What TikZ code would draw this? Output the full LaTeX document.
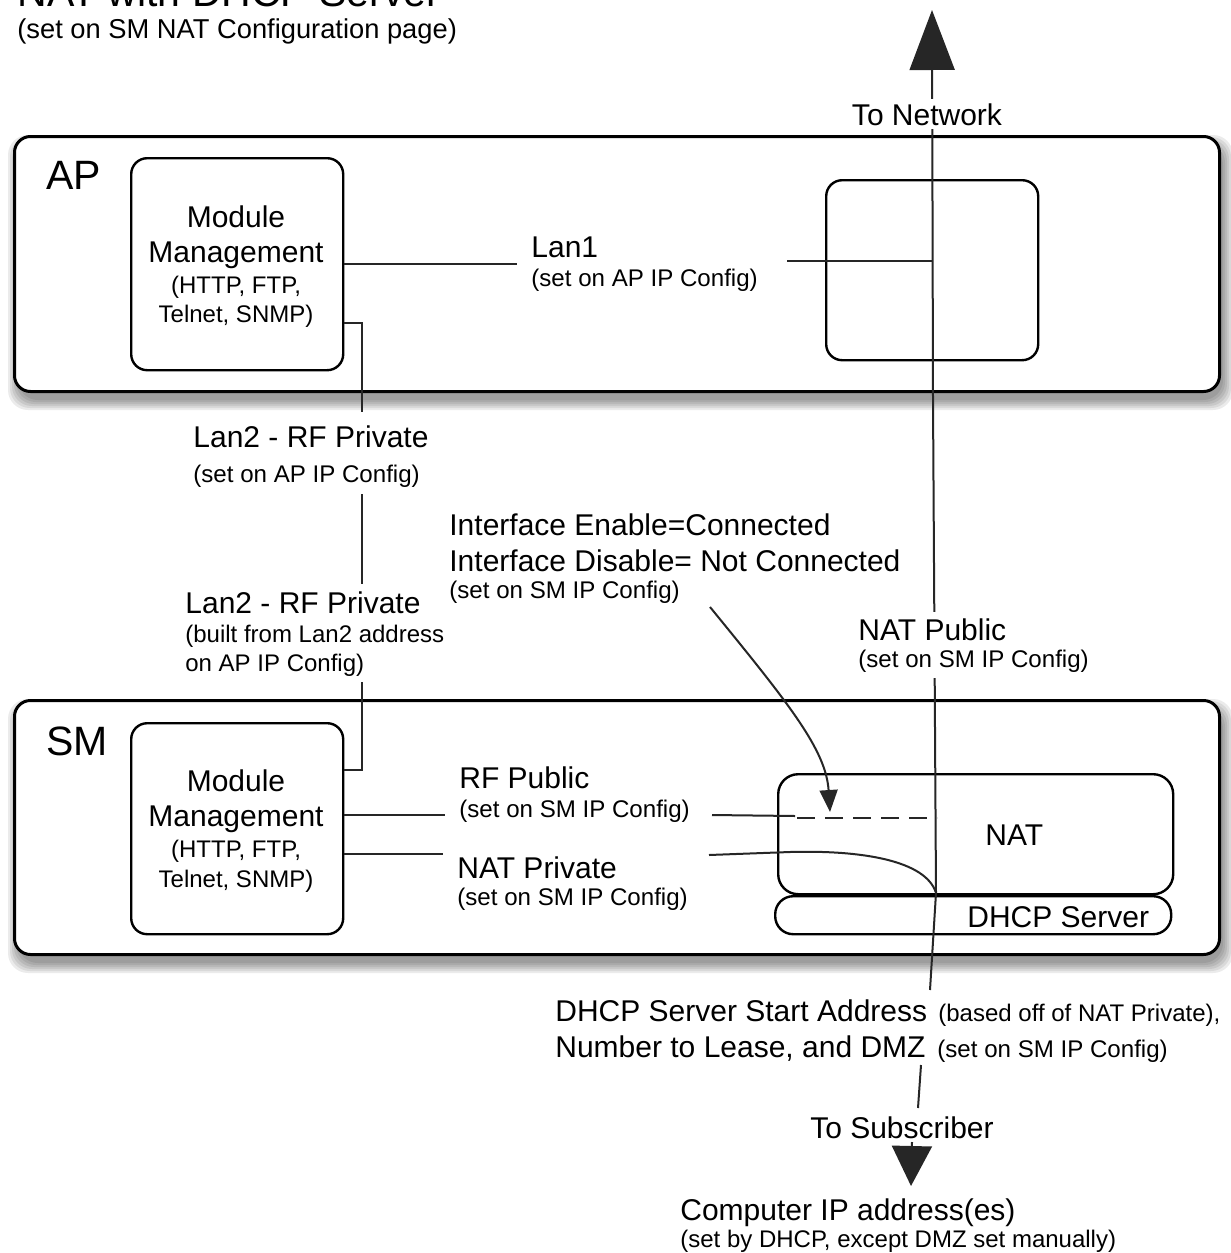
\documentclass[tikz,border=0pt]{standalone}
\usepackage{fontspec}
\setmainfont{Liberation Sans}
\usetikzlibrary{arrows.meta}
\newcommand{\mainsz}{\fontsize{15}{18}\selectfont}
\newcommand{\bigsz}{\fontsize{20.5}{24}\selectfont}
\newcommand{\titlesubsz}{\fontsize{13.65}{16}\selectfont}
\newcommand{\subsz}{\fontsize{12.05}{14}\selectfont}
\newcommand{\tinysz}{\fontsize{12}{14}\selectfont}
\begin{document}
\begin{tikzpicture}[x=0.5pt,y=-0.5pt,
  outerbox/.style={draw=black, line width=1.5pt, rounded corners=8pt, fill=white, inner sep=0pt, anchor=north west},
  innerbox/.style={draw=black, line width=1.2pt, rounded corners=8pt, fill=white, inner sep=0pt, anchor=north west},
  conn/.style={draw=black!85, line width=1pt},
  txt/.style={inner sep=0pt, anchor=base west, font=\mainsz},
  ctxt/.style={inner sep=0pt, anchor=base, font=\mainsz},
  labelbg/.style={fill=white},
  shadowlayer/.style={fill=black, opacity=0.08, rounded corners=10pt}
]
\useasboundingbox (0,0) rectangle (1231,1253);

% title (cut off at top, as in the original)
\node[txt, font=\bigsz] (title) at (17,6) {NAT with DHCP Server};
\node[txt, font=\titlesubsz] (subtitle) at (17,38) {(set on SM NAT Configuration page)};

% shadows
\foreach \k in {0,2,...,10} {
  \fill[shadowlayer] (18-\k,145-\k) rectangle (1223+\k,400+\k);
  \fill[shadowlayer] (18-\k,709-\k) rectangle (1223+\k,963+\k);
}

% outer boxes
\node[outerbox, minimum width=602.5pt, minimum height=127.5pt] (ap) at (13,135) {};
\node[outerbox, minimum width=602.5pt, minimum height=127pt] (sm) at (13,699) {};
\node[txt, font=\bigsz] (aplbl) at (46,189) {AP};
\node[txt, font=\bigsz] (smlbl) at (46,755) {SM};

% AP inner boxes
\node[innerbox, minimum width=106pt, minimum height=106pt] (apmod) at (130,157) {};
\node[innerbox, minimum width=106pt, minimum height=90pt] (aprt) at (825,179) {};
\node[ctxt] at (236,227) {Module};
\node[ctxt] at (236,262) {Management};
\node[ctxt, font=\tinysz] at (236,293) {(HTTP, FTP,};
\node[ctxt, font=\tinysz] at (236,322) {Telnet, SNMP)};

% SM inner boxes
\node[innerbox, minimum width=106pt, minimum height=105.5pt] (smmod) at (130,722) {};
\node[ctxt] at (236,791) {Module};
\node[ctxt] at (236,826) {Management};
\node[ctxt, font=\tinysz] at (236,857) {(HTTP, FTP,};
\node[ctxt, font=\tinysz] at (236,887) {Telnet, SNMP)};
\node[innerbox, minimum width=197.5pt, minimum height=60pt, rounded corners=10pt] (nat) at (777,773) {};
\node[innerbox, minimum width=198pt, minimum height=19pt, rounded corners=9pt] (dhcp) at (774,895) {};
\node[txt] (natlbl) at (985,845) {NAT};
\node[txt] (dhcplbl) at (967,927) {DHCP Server};

% network line with arrow
\coordinate (netbot) at (930,990);
\coordinate (nattip) at (936,893);
\coordinate (nettop) at (932,10);
\draw[conn, -{Triangle[length=30pt,width=22.5pt]}] (netbot) -- (nattip) -- (933,400) -- (nettop);

% Lan1
\draw[conn] (apmod.east |- 0,264) -- (517,264);
\draw[conn] (787,261) -- (932,261);
\node[txt] (lan1) at (531,257) {Lan1};
\node[txt, font=\subsz] (lan1s) at (531,286) {(set on AP IP Config)};

% Lan2
\draw[conn] (apmod.east |- 0,323) -- (362,323) -- (362,770) -- (smmod.east |- 0,770);
\fill[labelbg] (188,412) rectangle (434,494);
\fill[labelbg] (180,584) rectangle (450,682);
\node[txt] (lan2a) at (193,447) {Lan2 - RF Private};
\node[txt, font=\subsz] (lan2as) at (193,482) {(set on AP IP Config)};
\node[txt] (lan2b) at (185,613) {Lan2 - RF Private};
\node[txt, font=\tinysz] (lan2bs) at (185,642) {(built from Lan2 address};
\node[txt, font=\tinysz] (lan2bt) at (185,671) {on AP IP Config)};

% Interface label and arrow
\node[txt] (ifen) at (449,535) {Interface Enable=Connected};
\node[txt] (ifdis) at (449,571) {Interface Disable= Not Connected};
\node[txt, font=\subsz] (ifs) at (449,598) {(set on SM IP Config)};
\draw[conn, -{Triangle[length=11pt,width=9pt]}] (710,607) .. controls (790,705) and (826,750) .. (830,812);

% NAT Public
\fill[labelbg] (854,612) rectangle (1092,678);
\node[txt] (natpub) at (858,640) {NAT Public};
\node[txt, font=\subsz] (natpubs) at (858,667) {(set on SM IP Config)};

% RF Public
\draw[conn] (smmod.east |- 0,815) -- (445,815);
\draw[conn] (712,815) -- (795,816);
\draw[conn, dash pattern=on 9pt off 5pt] (797,818) -- (937,818);
\node[txt] (rfpub) at (459,788) {RF Public};
\node[txt, font=\subsz] (rfpubs) at (459,817) {(set on SM IP Config)};

% NAT Private
\draw[conn] (smmod.east |- 0,854) -- (443,854);
\draw[conn] (709,855) -- (790,852) .. controls (860,850) and (926,860) .. (nattip);
\node[txt] (natpriv) at (457,878) {NAT Private};
\node[txt, font=\subsz] (natprivs) at (457,905) {(set on SM IP Config)};

% To Network label
\node[fill=white, inner sep=2pt, anchor=base, font=\mainsz] (tonet) at (927,125) {To Network};

% DHCP text
\node[txt] (dhcpa) at (555,1021) {DHCP Server Start Address};
\node[txt, font=\tinysz] (dhcpas) at (938,1021) {(based off of NAT Private),};
\node[txt] (dhcpb) at (555,1057) {Number to Lease, and DMZ};
\node[txt, font=\subsz] (dhcpbs) at (937,1057) {(set on SM IP Config)};

% To Subscriber
\draw[conn] (921,1065) -- (918,1108);
\node[ctxt] (tosub) at (902,1138) {To Subscriber};
\draw[conn, -{Triangle[length=20pt,width=20pt]}] (912,1142) -- (911,1186);

% Computer IP
\node[txt] (comp) at (680,1220) {Computer IP address(es)};
\node[txt, font=\tinysz] (comps) at (680,1247) {(set by DHCP, except DMZ set manually)};
\end{tikzpicture}
\end{document}
